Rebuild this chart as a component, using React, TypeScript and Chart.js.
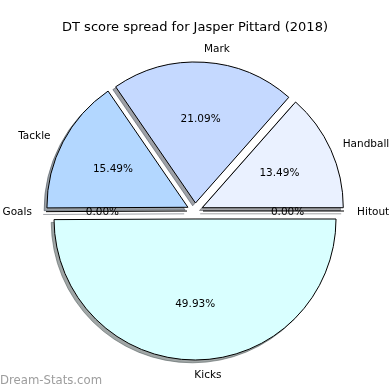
import React, { useEffect, useRef } from 'react';
import { Chart, registerables } from 'chart.js';

Chart.register(...registerables);

// ---- data (clockwise from 9 o'clock) ----
const categories: string[] = ['Goals', 'Tackle', 'Mark', 'Handball', 'Hitout', 'Kicks'];
const shares: number[] = [0, 15.49, 21.09, 13.49, 0, 49.93];
const sliceColors: string[] = ['#cfe0ff', '#b3d7ff', '#c5d9ff', '#eaf1ff', '#eef6ff', '#d9ffff'];
const titleText = 'DT score spread for Jasper Pittard (2018)';
const watermarkText = 'Dream-Stats.com';

// ---- styling ----
const FONT = '"DejaVu Sans", sans-serif';
const EXPLODE = 8;
const SHADOW_DX = -2.8;
const SHADOW_DY = 2.8;
const TEXT_DY = 0.8;

function shadowColor(hex: string): string {
  const r = Math.round(parseInt(hex.slice(1, 3), 16) * 0.3);
  const g = Math.round(parseInt(hex.slice(3, 5), 16) * 0.3);
  const b = Math.round(parseInt(hex.slice(5, 7), 16) * 0.3);
  return `rgba(${r},${g},${b},0.5)`;
}

function drawSpoke(ctx: CanvasRenderingContext2D, a: any, color: string) {
  ctx.beginPath();
  ctx.moveTo(a.x, a.y);
  ctx.lineTo(a.x + Math.cos(a.startAngle) * a.outerRadius, a.y + Math.sin(a.startAngle) * a.outerRadius);
  ctx.strokeStyle = color;
  ctx.lineWidth = 1;
  ctx.stroke();
}

const mplPie = {
  id: 'mplPie',
  beforeDatasetsDraw(chart: any) {
    const ctx: CanvasRenderingContext2D = chart.ctx;
    const arcs: any[] = chart.getDatasetMeta(0).data;
    const offs = arcs.map((a) => {
      const m = (a.startAngle + a.endAngle) / 2;
      return [Math.cos(m) * EXPLODE, Math.sin(m) * EXPLODE];
    });
    // shadows first
    arcs.forEach((a, i) => {
      const sc = shadowColor(sliceColors[i]);
      ctx.save();
      ctx.translate(offs[i][0] + SHADOW_DX, offs[i][1] + SHADOW_DY);
      if (a.circumference === 0) {
        drawSpoke(ctx, a, sc);
      } else {
        const o = a.options;
        a.options = { ...o, backgroundColor: sc, borderColor: sc };
        a.draw(ctx);
        a.options = o;
      }
      ctx.restore();
    });
    arcs.forEach((a, i) => {
      ctx.save();
      ctx.translate(offs[i][0], offs[i][1]);
      if (a.circumference === 0) drawSpoke(ctx, a, '#000');
      else a.draw(ctx);
      ctx.restore();
    });
    return false;
  },
  afterDraw(chart: any) {
    const ctx: CanvasRenderingContext2D = chart.ctx;
    const arcs: any[] = chart.getDatasetMeta(0).data;
    const total = shares.reduce((s, v) => s + v, 0);
    ctx.save();
    ctx.fillStyle = '#000';
    ctx.textBaseline = 'middle';
    ctx.font = `10.5px ${FONT}`;
    arcs.forEach((a, i) => {
      const m = (a.startAngle + a.endAngle) / 2;
      const cx = a.x + Math.cos(m) * EXPLODE;
      const cy = a.y + Math.sin(m) * EXPLODE;
      const r = a.outerRadius;
      const lx = cx + 1.1 * r * Math.cos(m);
      const ly = cy + 1.1 * r * Math.sin(m);
      const right = lx - a.x > 0;
      ctx.textAlign = right ? 'left' : 'right';
      ctx.fillText(categories[i], lx + (right ? -1 : 0), ly + TEXT_DY);
      const px = cx + 0.6 * r * Math.cos(m);
      const py = cy + 0.6 * r * Math.sin(m);
      ctx.textAlign = 'center';
      ctx.fillText(((shares[i] / total) * 100).toFixed(2) + '%', px, py + TEXT_DY);
    });
    // title
    ctx.font = `13px ${FONT}`;
    ctx.textAlign = 'center';
    ctx.textBaseline = 'alphabetic';
    ctx.fillText(titleText, 195, 30.5);
    // watermark
    ctx.font = `11.7px ${FONT}`;
    ctx.fillStyle = '#9d9d9d';
    ctx.textAlign = 'left';
    ctx.fillText(watermarkText, 0, 384);
    ctx.restore();
  },
};

export default function App() {
  const ref = useRef<HTMLCanvasElement | null>(null);
  useEffect(() => {
    if (!ref.current) return;
    const chart = new Chart(ref.current, {
      type: 'pie',
      data: {
        labels: categories,
        datasets: [
          {
            data: shares,
            backgroundColor: sliceColors,
            borderColor: '#000',
            borderWidth: 1,
            borderAlign: 'center',
            borderJoinStyle: 'miter',
          } as any,
        ],
      },
      options: {
        responsive: false,
        animation: false,
        devicePixelRatio: 1,
        rotation: -90.25,
        radius: 141,
        layout: { padding: { top: 32, bottom: 0, left: 0, right: 0 } },
        plugins: {
          legend: { display: false },
          tooltip: { enabled: false },
          title: { display: false },
        },
        events: [],
      } as any,
      plugins: [mplPie],
    });
    return () => chart.destroy();
  }, []);
  return (
    <canvas
      ref={ref}
      width={390}
      height={390}
      style={{ position: 'fixed', left: 0, top: 0, width: 390, height: 390, background: '#fff' }}
    />
  );
}
